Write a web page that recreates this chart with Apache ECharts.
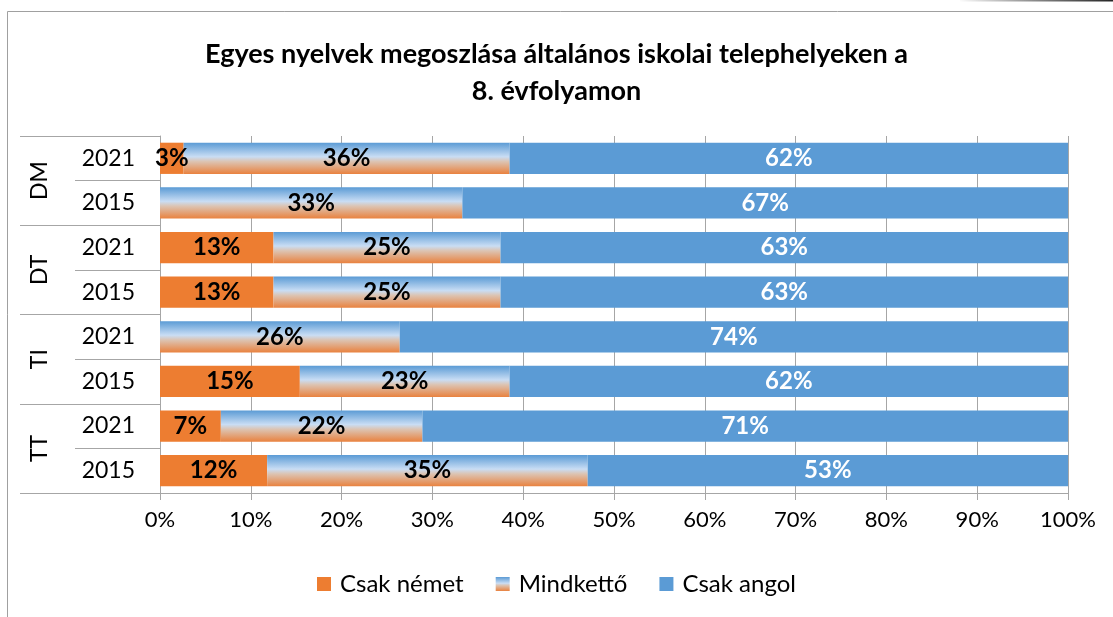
<!DOCTYPE html>
<html>
<head>
<meta charset="utf-8">
<script src="https://cdn.jsdelivr.net/npm/echarts@6/dist/echarts.min.js"></script>
<style>
  html, body { margin: 0; padding: 0; background: #fff; }
  #chart { width: 1113px; height: 617px; }
</style>
</head>
<body>
<div id="chart"></div>
<script>
var years = ['2021', '2015', '2021', '2015', '2021', '2015', '2021', '2015'];
var groups = ['DM', 'DT', 'TI', 'TT'];
var csakNemet = [2.6, 0, 12.5, 12.5, 0, 15.4, 6.7, 11.8];
var mindketto = [35.9, 33.3, 25, 25, 26.4, 23.1, 22.2, 35.3];
var csakAngol = [61.5, 66.7, 62.5, 62.5, 73.6, 61.5, 71.1, 52.9];
var xTicks = [0, 10, 20, 30, 40, 50, 60, 70, 80, 90, 100];

var font = 'Lato, "Liberation Sans", sans-serif';
var lineColor = '#a6a6a6';

var chart = echarts.init(document.getElementById('chart'));

function pct(p) {
  return p.value > 0 ? Math.round(p.value) + '%' : '';
}

var mixGradient = new echarts.graphic.LinearGradient(0, 0, 0, 1, [
  { offset: 0, color: '#5b9bd5' },
  { offset: 0.45, color: '#c9ddf4' },
  { offset: 0.6, color: '#dcc4b3' },
  { offset: 1, color: '#e9823f' }
]);

var option = {
  backgroundColor: '#fff',
  animation: false,
  title: {
    text: 'Egyes nyelvek megoszlása általános iskolai telephelyeken a\n8. évfolyamon',
    left: 'center',
    top: 31,
    textStyle: {
      fontFamily: font,
      fontWeight: 'bold',
      fontSize: 27,
      lineHeight: 37,
      color: '#000'
    }
  },
  legend: {
    bottom: 16,
    left: 'center',
    itemWidth: 14,
    itemHeight: 14,
    itemGap: 32,
    icon: 'rect',
    textStyle: { fontFamily: font, fontSize: 24, color: '#000', padding: [0, 0, 0, 4] },
    data: ['Csak német', 'Mindkettő', 'Csak angol']
  },
  grid: { left: 160, right: 45, top: 136, bottom: 124 },
  xAxis: {
    type: 'value',
    min: xTicks[0],
    max: xTicks[xTicks.length - 1],
    interval: 10,
    axisLine: { show: true, lineStyle: { color: lineColor } },
    axisTick: { show: true, length: 7, lineStyle: { color: lineColor } },
    splitLine: { show: true, lineStyle: { color: lineColor, width: 1 } },
    axisLabel: {
      formatter: '{value}%',
      fontFamily: font,
      fontSize: 22,
      color: '#000',
      margin: 16
    }
  },
  yAxis: [{
    type: 'category',
    data: years,
    inverse: true,
    axisLine: { show: true, lineStyle: { color: lineColor } },
    axisTick: { show: true, length: 85, interval: 0, lineStyle: { color: lineColor } },
    axisLabel: { fontFamily: font, fontSize: 23, color: '#000', margin: 25 }
  }, {
    type: 'category',
    data: groups,
    inverse: true,
    position: 'left',
    offset: 0,
    axisLine: { show: false },
    axisTick: { show: true, length: 140, interval: 0, lineStyle: { color: lineColor } },
    axisLabel: { fontFamily: font, fontSize: 23, color: '#000', rotate: 90, margin: 109 }
  }],
  series: [{
    name: 'Csak német',
    type: 'bar',
    stack: 'total',
    barCategoryGap: '30%',
    itemStyle: { color: '#ed7d31' },
    label: { show: true, position: 'inside', formatter: pct, fontFamily: font, fontWeight: 'bold', fontSize: 24, color: '#000' },
    data: csakNemet
  }, {
    name: 'Mindkettő',
    type: 'bar',
    stack: 'total',
    itemStyle: { color: mixGradient },
    label: { show: true, position: 'inside', formatter: pct, fontFamily: font, fontWeight: 'bold', fontSize: 24, color: '#000' },
    data: mindketto
  }, {
    name: 'Csak angol',
    type: 'bar',
    stack: 'total',
    itemStyle: { color: '#5b9bd5' },
    label: { show: true, position: 'inside', formatter: pct, fontFamily: font, fontWeight: 'bold', fontSize: 24, color: '#fff' },
    data: csakAngol
  }],
  graphic: [{
    type: 'rect',
    shape: { x: 7.5, y: 11.5, width: 1200, height: 700 },
    style: { fill: 'none', stroke: '#a0a0a0', lineWidth: 1 },
    silent: true
  }, {
    type: 'line',
    shape: { x1: 960, y1: 0.5, x2: 1113, y2: 0.5 },
    style: {
      lineWidth: 2,
      stroke: new echarts.graphic.LinearGradient(0, 0, 1, 0, [
        { offset: 0, color: 'rgba(0,0,0,0)' },
        { offset: 1, color: '#222' }
      ])
    },
    silent: true
  }]
};

chart.setOption(option);
</script>
</body>
</html>
